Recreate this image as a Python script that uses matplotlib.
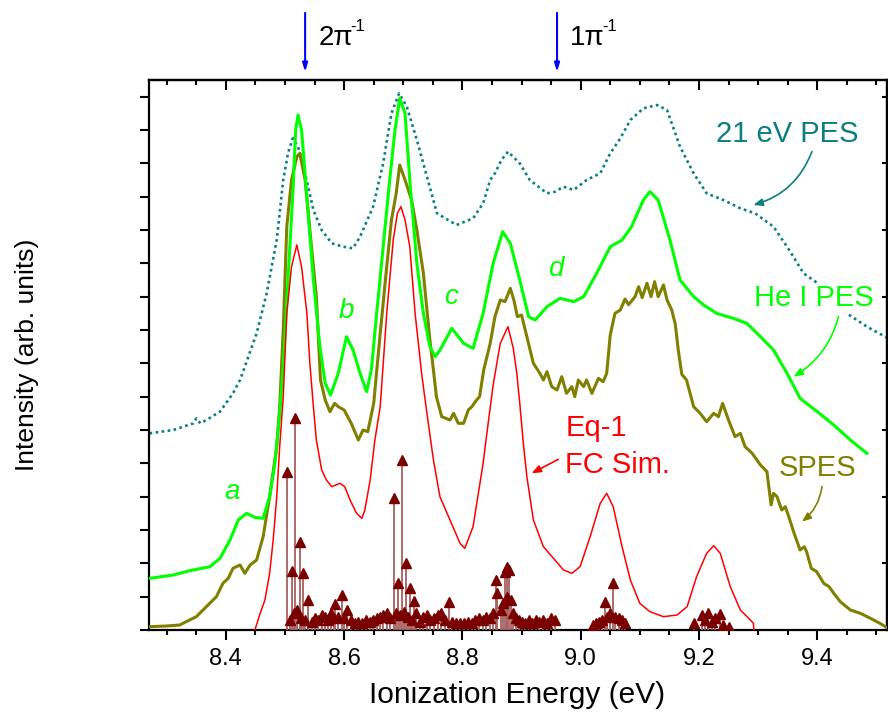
import matplotlib
matplotlib.use("Agg")
import matplotlib.pyplot as plt
from matplotlib.ticker import MultipleLocator, FixedLocator

plt.rcParams['font.family'] = ['Liberation Sans', 'DejaVu Sans']

# ---------------- data ----------------
pes21_E = [8.271, 8.311, 8.345, 8.35, 8.357, 8.367, 8.39, 8.412, 8.424, 8.452, 8.469, 8.486, 8.497,
           8.505, 8.513, 8.522, 8.534, 8.548, 8.562, 8.579, 8.598, 8.615, 8.627, 8.649, 8.666, 8.68,
           8.693, 8.706, 8.723, 8.74, 8.757, 8.79, 8.818, 8.835, 8.847, 8.855, 8.866, 8.877, 8.897,
           8.914, 8.943, 8.957, 8.971, 8.988, 9.01, 9.033, 9.05, 9.067, 9.084, 9.106, 9.129, 9.146,
           9.168, 9.191, 9.213, 9.241, 9.27, 9.295, 9.326, 9.349, 9.377, 9.397, 9.45, 9.484, 9.52]
pes21_I = [5.9, 6.0, 6.2, 6.35, 6.2, 6.3, 6.55, 7.1, 7.5, 8.9, 10.1, 11.7, 13.5,
           14.3, 14.75, 14.5, 13.7, 12.6, 12.0, 11.6, 11.5, 11.45, 11.8, 12.7, 14.0, 15.5,
           16.1, 15.7, 14.7, 13.6, 12.5, 12.15, 12.35, 12.8, 13.5, 13.7, 14.1, 14.35, 14.0,
           13.5, 13.1, 13.15, 13.3, 13.2, 13.5, 13.7, 14.3, 14.75, 15.3, 15.65, 15.75, 15.6,
           14.5, 13.7, 13.1, 12.9, 12.65, 12.5, 12.1, 11.5, 10.7, 10.45, 9.5, 9.1, 8.75]

hei_E = [8.271, 8.311, 8.339, 8.373, 8.39, 8.407, 8.421, 8.435, 8.449, 8.463, 8.474, 8.483, 8.491,
         8.497, 8.505, 8.513, 8.518, 8.522, 8.528, 8.537, 8.548, 8.559, 8.568, 8.577, 8.59, 8.604,
         8.615, 8.627, 8.638, 8.646, 8.655, 8.666, 8.677, 8.686, 8.694, 8.703, 8.711, 8.723, 8.734,
         8.745, 8.754, 8.762, 8.782, 8.802, 8.818, 8.835, 8.852, 8.868, 8.881, 8.897, 8.912, 8.923,
         8.943, 8.965, 8.988, 9.005, 9.027, 9.05, 9.07, 9.086, 9.106, 9.117, 9.131, 9.151, 9.168,
         9.191, 9.208, 9.23, 9.258, 9.281, 9.304, 9.326, 9.349, 9.371, 9.4, 9.428, 9.456, 9.484]
hei_I = [1.55, 1.65, 1.78, 1.9, 2.15, 2.7, 3.3, 3.5, 3.38, 3.35, 4.0, 5.0, 6.5,
         7.9, 10.5, 13.0, 15.0, 15.45, 15.0, 13.0, 10.5, 8.5, 7.4, 7.05, 7.7, 8.8,
         8.4, 7.7, 7.15, 7.8, 9.5, 11.5, 13.5, 15.0, 15.95, 15.5, 13.5, 11.0, 9.5,
         8.5, 8.2, 8.4, 9.05, 8.6, 8.45, 9.5, 11.0, 11.95, 11.6, 10.5, 9.4, 9.3,
         9.7, 9.95, 9.85, 10.0, 10.7, 11.5, 11.7, 12.1, 12.9, 13.15, 12.9, 11.7, 10.5,
         10.0, 9.75, 9.5, 9.35, 9.2, 8.8, 8.4, 7.7, 6.95, 6.55, 6.15, 5.7, 5.3]

spes_E = [8.271, 8.3, 8.322, 8.333, 8.35, 8.367, 8.384, 8.395, 8.404, 8.412, 8.424, 8.432, 8.441,
          8.452, 8.463, 8.474, 8.486, 8.491, 8.497, 8.503, 8.511, 8.52, 8.525, 8.534, 8.542, 8.553,
          8.56, 8.568, 8.576, 8.584, 8.59, 8.6, 8.612, 8.624, 8.632, 8.64, 8.65, 8.661, 8.672,
          8.68, 8.688, 8.694, 8.703, 8.714, 8.723, 8.734, 8.745, 8.751, 8.756, 8.765, 8.772, 8.779,
          8.785, 8.793, 8.802, 8.81, 8.816, 8.824, 8.829, 8.836, 8.847, 8.855, 8.864, 8.872, 8.881,
          8.887, 8.893, 8.9, 8.909, 8.92, 8.931, 8.937, 8.943, 8.951, 8.96, 8.968, 8.976, 8.985,
          8.99, 8.996, 9.005, 9.01, 9.019, 9.03, 9.038, 9.044, 9.05, 9.058, 9.067, 9.075, 9.081,
          9.092, 9.098, 9.104, 9.112, 9.119, 9.125, 9.131, 9.14, 9.146, 9.154, 9.16, 9.165, 9.171,
          9.179, 9.191, 9.202, 9.213, 9.225, 9.233, 9.24, 9.25, 9.261, 9.27, 9.278, 9.29, 9.304,
          9.315, 9.322, 9.326, 9.332, 9.34, 9.346, 9.351, 9.36, 9.371, 9.378, 9.382, 9.39, 9.399,
          9.411, 9.42, 9.428, 9.439, 9.456, 9.473, 9.49, 9.506, 9.52]
spes_I = [0.1, 0.12, 0.15, 0.25, 0.4, 0.7, 1.0, 1.4, 1.55, 1.85, 1.95, 1.7, 1.95,
          2.1, 2.8, 4.0, 5.5, 6.7, 9.0, 12.1, 13.5, 14.2, 14.3, 13.5, 12.0, 10.0,
          7.5, 6.9, 6.55, 6.8, 6.7, 6.6, 6.2, 5.7, 6.0, 5.95, 6.8, 8.9, 10.9,
          12.3, 13.1, 13.95, 13.5, 12.9, 12.0, 10.7, 8.7, 7.8, 7.0, 6.4, 6.35, 6.3,
          6.5, 6.2, 6.2, 6.6, 6.7, 6.9, 7.0, 7.8, 8.6, 9.4, 9.9, 9.85, 10.25,
          9.9, 9.4, 9.45, 8.8, 8.0, 7.7, 7.5, 7.75, 7.3, 7.2, 7.6, 7.1, 7.3,
          7.0, 7.5, 7.3, 7.5, 7.1, 7.55, 7.45, 7.7, 8.85, 9.5, 9.6, 9.93, 9.76,
          10.0, 10.3, 9.97, 10.4, 10.0, 10.45, 10.0, 10.35, 9.9, 9.6, 9.17, 8.4, 7.67,
          7.5, 6.7, 6.5, 6.25, 6.5, 6.4, 6.8, 6.3, 5.8, 5.9, 5.5, 5.3, 4.95,
          4.75, 3.75, 4.1, 4.0, 3.6, 3.7, 3.45, 2.95, 2.4, 2.5, 2.35, 1.85, 1.75,
          1.4, 1.3, 1.1, 0.85, 0.6, 0.5, 0.35, 0.2, 0.05]

fc_E = [8.449, 8.458, 8.466, 8.474, 8.48, 8.486, 8.491, 8.497, 8.503, 8.511, 8.52, 8.528, 8.537,
        8.542, 8.548, 8.553, 8.562, 8.57, 8.579, 8.593, 8.601, 8.61, 8.621, 8.63, 8.635, 8.644,
        8.652, 8.661, 8.672, 8.683, 8.69, 8.696, 8.703, 8.711, 8.72, 8.731, 8.74, 8.751, 8.762,
        8.779, 8.796, 8.804, 8.818, 8.835, 8.841, 8.852, 8.864, 8.877, 8.886, 8.892, 8.897, 8.903,
        8.909, 8.92, 8.937, 8.954, 8.971, 8.985, 8.999, 9.016, 9.033, 9.044, 9.055, 9.07, 9.084,
        9.1, 9.117, 9.14, 9.163, 9.18, 9.196, 9.213, 9.225, 9.236, 9.253, 9.27, 9.287, 9.292, 9.293]
fc_I = [0.0, 0.5, 0.9, 1.7, 2.7, 4.0, 5.5, 7.0, 9.5, 10.9, 11.55, 10.9, 9.5,
        8.0, 6.7, 5.7, 4.8, 4.5, 4.3, 4.4, 4.3, 3.9, 3.5, 3.35, 3.6, 4.5,
        5.7, 6.7, 9.5, 11.7, 12.5, 12.7, 12.3, 11.5, 9.5, 7.7, 6.5, 5.1, 4.0,
        3.3, 2.6, 2.45, 3.1, 5.0, 5.85, 7.35, 8.6, 9.1, 8.45, 7.7, 6.8, 5.6,
        4.6, 3.3, 2.5, 2.15, 1.8, 1.7, 1.9, 2.8, 3.8, 4.1, 3.7, 2.5, 1.5,
        0.8, 0.55, 0.4, 0.45, 0.7, 1.6, 2.3, 2.53, 2.3, 1.3, 0.6, 0.3, 0.2, 0.0]

stick_E = [8.504, 8.512, 8.517, 8.525, 8.531, 8.539, 8.585, 8.597, 8.684, 8.691, 8.698, 8.704,
           8.711, 8.718, 8.778, 8.857, 8.859, 8.872, 8.876, 8.879, 8.883, 9.041, 9.054,
           8.508, 8.515, 8.52, 8.527, 8.533, 8.545, 8.55, 8.556, 8.562, 8.568, 8.573, 8.578,
           8.583, 8.59, 8.6, 8.605, 8.612, 8.618, 8.624, 8.63, 8.637, 8.643, 8.649, 8.655,
           8.66, 8.666, 8.672, 8.678, 8.688, 8.694, 8.701, 8.708, 8.714, 8.722, 8.728, 8.734,
           8.74, 8.746, 8.752, 8.758, 8.764, 8.77, 8.783, 8.79, 8.796, 8.803, 8.81, 8.816,
           8.822, 8.828, 8.834, 8.84, 8.846, 8.852, 8.865, 8.868, 8.875, 8.886, 8.89, 8.895,
           8.9, 8.906, 8.912, 8.918, 8.925, 8.93, 8.937, 8.943, 8.95, 8.957, 9.02, 9.026,
           9.031, 9.036, 9.045, 9.05, 9.058, 9.064, 9.07, 9.075, 9.191, 9.205, 9.211, 9.216,
           9.222, 9.227, 9.235, 9.241, 9.25]
stick_I = [4.75, 1.78, 6.35, 2.65, 1.7, 0.9, 0.78, 1.05, 3.95, 1.4, 5.1, 2.0,
           1.25, 0.86, 0.85, 1.5, 1.1, 1.75, 1.9, 1.8, 0.9, 0.85, 1.4,
           0.3, 0.5, 0.6, 0.35, 0.3, 0.25, 0.35, 0.3, 0.45, 0.4, 0.3, 0.5,
           0.35, 0.4, 0.35, 0.6, 0.3, 0.2, 0.25, 0.2, 0.3, 0.25, 0.3, 0.35,
           0.4, 0.45, 0.5, 0.35, 0.5, 0.45, 0.55, 0.4, 0.3, 0.5, 0.25, 0.4,
           0.45, 0.3, 0.35, 0.45, 0.5, 0.3, 0.25, 0.2, 0.2, 0.2, 0.25, 0.2,
           0.3, 0.35, 0.3, 0.4, 0.35, 0.5, 0.6, 0.8, 1.0, 0.5, 0.35, 0.3,
           0.25, 0.2, 0.3, 0.2, 0.3, 0.25, 0.3, 0.2, 0.35, 0.3, 0.15, 0.2,
           0.25, 0.3, 0.4, 0.5, 0.4, 0.35, 0.3, 0.2, 0.2, 0.45, 0.3, 0.5,
           0.25, 0.35, 0.47, 0.15, 0.1]

x_major = [8.4, 8.6, 8.8, 9.0, 9.2, 9.4]
x_labels = ["8.4", "8.6", "8.8", "9.0", "9.2", "9.4"]
orbital_E = [8.534, 8.96]
orbital_labels = ["2π", "1π"]

# ---------------- colours ----------------
C_TEAL = '#0a7f80'
C_GREEN = '#00ff00'
C_OLIVE = '#808000'
C_RED = '#ff0000'
C_STEM = '#a86060'
C_MARK = '#7a0000'
C_BLUE = '#0000ff'

fig = plt.figure(figsize=(8.88, 7.18), dpi=100)
W, H = 888, 718
ax = fig.add_axes([149 / W, (H - 630) / H, 738 / W, 550 / H])
ax.set_xlim(8.27, 9.518)
ax.set_ylim(0, 16.5)

ax.plot(pes21_E, pes21_I, color=C_TEAL, lw=1.9, ls=(0, (1, 1.3)), zorder=2)
ax.plot(spes_E, spes_I, color=C_OLIVE, lw=2.2, zorder=3, solid_joinstyle='round')
ax.plot(hei_E, hei_I, color=C_GREEN, lw=2.2, zorder=4, solid_joinstyle='round')
ax.plot(fc_E, fc_I, color=C_RED, lw=1.1, zorder=5, solid_joinstyle='round')
ax.vlines(stick_E, 0, stick_I, color=C_STEM, lw=1.3, zorder=6)
ax.plot(stick_E, stick_I, ls='none', marker='^', ms=7, color=C_MARK, mec=C_MARK, zorder=7)

# ticks
for s in ax.spines.values():
    s.set_linewidth(1.6)
ax.set_xticks(x_major)
ax.set_xticklabels(x_labels)
ax.xaxis.set_minor_locator(MultipleLocator(0.05))
ax.tick_params(axis='x', which='major', direction='out', length=7.2, width=1.5,
               labelsize=17, pad=6)
ax.tick_params(axis='x', which='minor', direction='out', length=3.6, width=1.5)
ax.yaxis.set_major_locator(MultipleLocator(1))
ax.tick_params(axis='y', which='major', direction='out', length=6.5, width=1.5,
               labelleft=False)

top = ax.secondary_xaxis('top')
top.set_xticks(x_major)
top.xaxis.set_minor_locator(MultipleLocator(0.05))
top.tick_params(axis='x', which='major', direction='in', length=7.2, width=1.5, labeltop=False)
top.tick_params(axis='x', which='minor', direction='in', length=3.6, width=1.5)
top.spines['top'].set_linewidth(1.6)

right = ax.secondary_yaxis('right')
right.yaxis.set_major_locator(FixedLocator([2, 4, 6, 8, 10, 12, 14, 16]))
right.tick_params(axis='y', which='major', direction='in', length=3.6, width=1.5, labelright=False)
right.spines['right'].set_linewidth(1.6)

# axis labels
fig.text(517 / W, 1 - 695 / H, "Ionization Energy (eV)", ha='center', va='center', fontsize=21.5)
fig.text(27 / W, 1 - 355 / H, "Intensity (arb. units)", ha='center', va='center',
         fontsize=19, rotation=90)

# feature letters
for lab, xe, yi in [("a", 8.41, 4.14), ("b", 8.603, 9.57), ("c", 8.781, 10.0), ("d", 8.958, 10.83)]:
    ax.text(xe, yi, lab, color=C_GREEN, style='italic', fontsize=20, ha='center', va='center')

# series labels
ax.text(9.35, 14.87, "21 eV PES", color=C_TEAL, fontsize=21, ha='center', va='center', zorder=10)
ax.text(9.394, 9.95, "He I PES", color=C_GREEN, fontsize=21, ha='center', va='center', zorder=10,
        bbox=dict(facecolor='white', edgecolor='none', pad=0.5))
ax.text(9.4, 4.85, "SPES", color=C_OLIVE, fontsize=21, ha='center', va='center', zorder=10)
ax.text(8.974, 6.06, "Eq-1", color=C_RED, fontsize=21, ha='left', va='center', zorder=10)
ax.text(8.974, 4.95, "FC Sim.", color=C_RED, fontsize=21, ha='left', va='center', zorder=10)

# label arrows
def arr(xy, xytext, color, rad):
    ax.annotate('', xy=xy, xytext=xytext,
                arrowprops=dict(arrowstyle='-|>,head_length=0.55,head_width=0.22', color=color,
                                lw=1.2, shrinkA=0, shrinkB=0,
                                connectionstyle=f'arc3,rad={rad}'), zorder=10)

arr((9.292, 12.75), (9.391, 14.35), C_TEAL, -0.25)
arr((9.36, 7.6), (9.436, 9.4), C_GREEN, -0.2)
arr((9.374, 3.25), (9.408, 4.3), C_OLIVE, -0.2)
arr((8.917, 4.7), (8.962, 5.12), C_RED, 0.0)

# orbital markers above the plot
for xe, lab in zip(orbital_E, orbital_labels):
    ax.annotate('', xy=(xe, 1.0145), xycoords=('data', 'axes fraction'),
                xytext=(xe, 1.122), textcoords=('data', 'axes fraction'),
                arrowprops=dict(arrowstyle='-|>,head_length=0.5,head_width=0.15', color=C_BLUE,
                                lw=1.5, shrinkA=0, shrinkB=0), annotation_clip=False)
    ax.text(xe + 0.022, 1.0 + (80 - 45) / 550, lab, transform=ax.get_xaxis_transform(),
            fontsize=20, ha='left', va='baseline', clip_on=False)
    ax.text(xe + 0.022 + 0.055, 1.0 + (80 - 31) / 550, "-1", transform=ax.get_xaxis_transform(),
            fontsize=12, ha='left', va='baseline', clip_on=False)

fig.savefig("out.png", dpi=100)
